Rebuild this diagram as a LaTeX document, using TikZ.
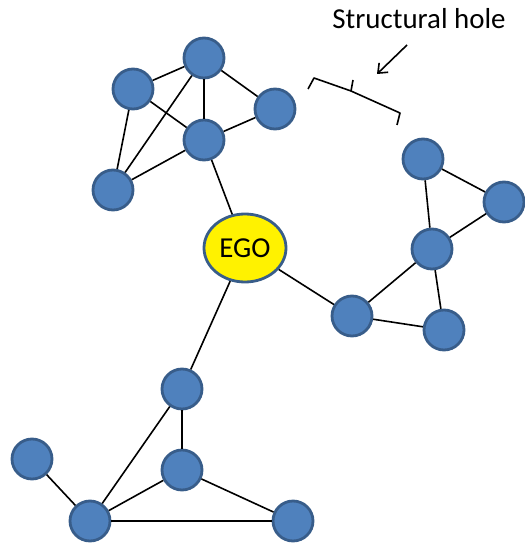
\documentclass[tikz,border=0pt]{standalone}
\usepackage{fontspec}
\setmainfont{Carlito}
\usetikzlibrary{arrows.meta,shapes.geometric}
\definecolor{nodefill}{rgb}{0.31,0.506,0.741}
\definecolor{nodeline}{rgb}{0.22,0.365,0.541}
\tikzset{
  member/.style={circle,draw=nodeline,fill=nodefill,line width=2.8bp,minimum size=40bp,inner sep=0pt},
  ego/.style={ellipse,draw=nodeline,fill=yellow,line width=2.8bp,minimum width=82bp,minimum height=68bp,inner sep=0pt,font=\fontsize{29}{34}\selectfont},
  tie/.style={draw=black,line width=1.6bp},
}
\begin{document}
\begin{tikzpicture}[x=1bp,y=-1bp,>={Straight Barb[length=8bp,width=13bp]},line join=bevel]
\useasboundingbox (0,0) rectangle (525,547);
%% top group
  % Node: ta
  \node [member] (ta) at (204,58) {};
  % Node: tb
  \node [member] (tb) at (133,89) {};
  % Node: tc
  \node [member] (tc) at (275,109) {};
  % Node: td
  \node [member] (td) at (204,140) {};
  % Node: te
  \node [member] (te) at (113,190) {};
%% right group
  % Node: ra
  \node [member] (ra) at (423,159) {};
  % Node: rb
  \node [member] (rb) at (504,202) {};
  % Node: rc
  \node [member] (rc) at (432,249) {};
  % Node: rd
  \node [member] (rd) at (352,316) {};
  % Node: re
  \node [member] (re) at (444,330) {};
%% bottom group
  % Node: ba
  \node [member] (ba) at (182,389) {};
  % Node: bb
  \node [member] (bb) at (32,459) {};
  % Node: bc
  \node [member] (bc) at (182,470) {};
  % Node: bd
  \node [member] (bd) at (90,521) {};
  % Node: be
  \node [member] (be) at (293,521) {};
  % Node: EGO
  \node [ego] (ego) at (245,248) {EGO};
%%
  % Edge: top group
  \draw [tie] (tb) -- (ta);
  \draw [tie] (ta) -- (td);
  \draw [tie] (ta) -- (tc);
  \draw [tie] (ta) -- (te);
  \draw [tie] (tb) -- (td);
  \draw [tie] (tb) -- (te);
  \draw [tie] (td) -- (tc);
  \draw [tie] (td) -- (te);
  \draw [tie] (td) -- (ego);
  % Edge: right group
  \draw [tie] (ra) -- (rc);
  \draw [tie] (ra) -- (rb);
  \draw [tie] (rb) -- (rc);
  \draw [tie] (rc) -- (rd);
  \draw [tie] (rc) -- (re);
  \draw [tie] (rd) -- (re);
  \draw [tie] (ego) -- (rd);
  % Edge: bottom group
  \draw [tie] (ego) -- (ba);
  \draw [tie] (ba) -- (bc);
  \draw [tie] (ba) -- (bd);
  \draw [tie] (bb) -- (bd);
  \draw [tie] (bc) -- (bd);
  \draw [tie] (bc) -- (be);
  \draw [tie] (bd) -- (be);
%% the hole
  \coordinate (holeleft) at (314,78);
  \coordinate (holemid) at (351,91);
  \coordinate (holeright) at (400,113);
  \draw [tie] (308,89) -- (holeleft) -- (holemid) -- (holeright) -- (397,125);
  \draw [tie] (holemid) -- (353,80);
  \node (hole) at (419,19) {\fontsize{29}{34}\selectfont Structural hole};
  \coordinate (holetip) at (377,74);
  \draw [->,line width=1.6bp] (407,45) -- (holetip);
%
\end{tikzpicture}
\end{document}
